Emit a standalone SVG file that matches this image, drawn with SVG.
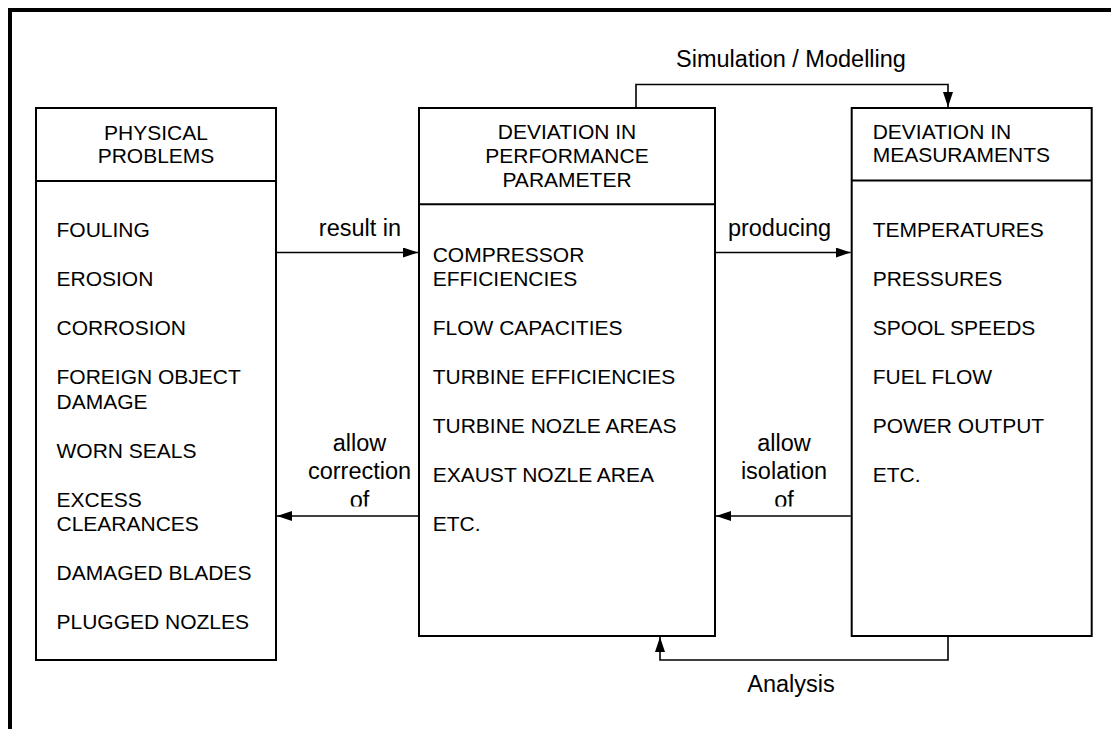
<svg xmlns="http://www.w3.org/2000/svg" width="1111" height="729" viewBox="0 0 1111 729">
<style>
.box{fill:#fff;stroke:#000;stroke-width:2}
.div{stroke:#000;stroke-width:2;fill:none}
.t{font-family:"Liberation Sans",Arial,sans-serif;font-size:21px;fill:#000}
.c{text-anchor:middle}
.lbl{font-family:"Liberation Sans",Arial,sans-serif;font-size:23.5px;fill:#000;text-anchor:middle}
.con{fill:none;stroke:#000;stroke-width:1.6}
</style>
<defs>
<marker id="ah" viewBox="0 0 15 10" refX="15" refY="5" markerWidth="15" markerHeight="10" markerUnits="userSpaceOnUse" orient="auto">
<path d="M0,0 L15,5 L0,10 Z" fill="#000"/>
</marker>
<clipPath id="clipL"><rect x="280" y="420" width="135" height="86.5"/></clipPath>
<clipPath id="clipR"><rect x="720" y="420" width="128" height="86.5"/></clipPath>
</defs>
<rect width="1111" height="729" fill="#fff"/>
<path d="M10,729 V10 H1111" fill="none" stroke="#000" stroke-width="4"/>

<g id="physical-problems">
<rect class="box" x="36" y="108" width="240" height="552"/>
<line class="div" x1="36" y1="181" x2="276" y2="181"/>
<text class="t c" x="156" y="139.5">PHYSICAL</text>
<text class="t c" x="156" y="163">PROBLEMS</text>
<text class="t" x="56.5" y="237.3">FOULING</text>
<text class="t" x="56.5" y="286.2">EROSION</text>
<text class="t" x="56.5" y="335.1">CORROSION</text>
<text class="t" x="56.5" y="384">FOREIGN OBJECT</text>
<text class="t" x="56.5" y="408.5">DAMAGE</text>
<text class="t" x="56.5" y="457.5">WORN SEALS</text>
<text class="t" x="56.5" y="506.5">EXCESS</text>
<text class="t" x="56.5" y="530.9">CLEARANCES</text>
<text class="t" x="56.5" y="580">DAMAGED BLADES</text>
<text class="t" x="56.5" y="628.8">PLUGGED NOZLES</text>
</g>

<g id="performance-parameter">
<rect class="box" x="419" y="108" width="296" height="528"/>
<line class="div" x1="419" y1="204.3" x2="715" y2="204.3"/>
<text class="t c" x="567" y="139.3">DEVIATION IN</text>
<text class="t c" x="567" y="163">PERFORMANCE</text>
<text class="t c" x="567" y="186.7">PARAMETER</text>
<text class="t" x="432.7" y="261.7">COMPRESSOR</text>
<text class="t" x="432.7" y="286.2">EFFICIENCIES</text>
<text class="t" x="432.7" y="335.1">FLOW CAPACITIES</text>
<text class="t" x="432.7" y="384">TURBINE EFFICIENCIES</text>
<text class="t" x="432.7" y="432.8">TURBINE NOZLE AREAS</text>
<text class="t" x="432.7" y="482">EXAUST NOZLE AREA</text>
<text class="t" x="432.7" y="531">ETC.</text>
</g>

<g id="measurements">
<rect class="box" x="851.7" y="108" width="240" height="528"/>
<line class="div" x1="851.7" y1="180.5" x2="1091.7" y2="180.5"/>
<text class="t" x="872.7" y="139.3">DEVIATION IN</text>
<text class="t" x="872.7" y="162.3">MEASURAMENTS</text>
<text class="t" x="872.7" y="237.3">TEMPERATURES</text>
<text class="t" x="872.7" y="286.2">PRESSURES</text>
<text class="t" x="872.7" y="335.1">SPOOL SPEEDS</text>
<text class="t" x="872.7" y="384">FUEL FLOW</text>
<text class="t" x="872.7" y="432.8">POWER OUTPUT</text>
<text class="t" x="872.7" y="482">ETC.</text>
</g>

<g id="connectors">
<path class="con" d="M277,252.5 H418" marker-end="url(#ah)"/>
<path class="con" d="M716,252.5 H850.7" marker-end="url(#ah)"/>
<path class="con" d="M418,516 H277" marker-end="url(#ah)"/>
<path class="con" d="M850.7,516 H716" marker-end="url(#ah)"/>
<path class="con" d="M636,107 V84.5 H948 V107" marker-end="url(#ah)"/>
<path class="con" d="M948,637 V660 H660 V637" marker-end="url(#ah)"/>
<text class="lbl" x="360" y="236">result in</text>
<text class="lbl" x="779.5" y="236">producing</text>
<text class="lbl" x="791" y="67.3">Simulation / Modelling</text>
<text class="lbl" x="791" y="691.7">Analysis</text>
<g clip-path="url(#clipL)">
<text class="lbl" x="359.5" y="450.7">allow</text>
<text class="lbl" x="359.5" y="479.3">correction</text>
<text class="lbl" x="359.5" y="507.9">of</text>
</g>
<g clip-path="url(#clipR)">
<text class="lbl" x="784" y="450.7">allow</text>
<text class="lbl" x="784" y="479.3">isolation</text>
<text class="lbl" x="784" y="507.9">of</text>
</g>
</g>
</svg>
